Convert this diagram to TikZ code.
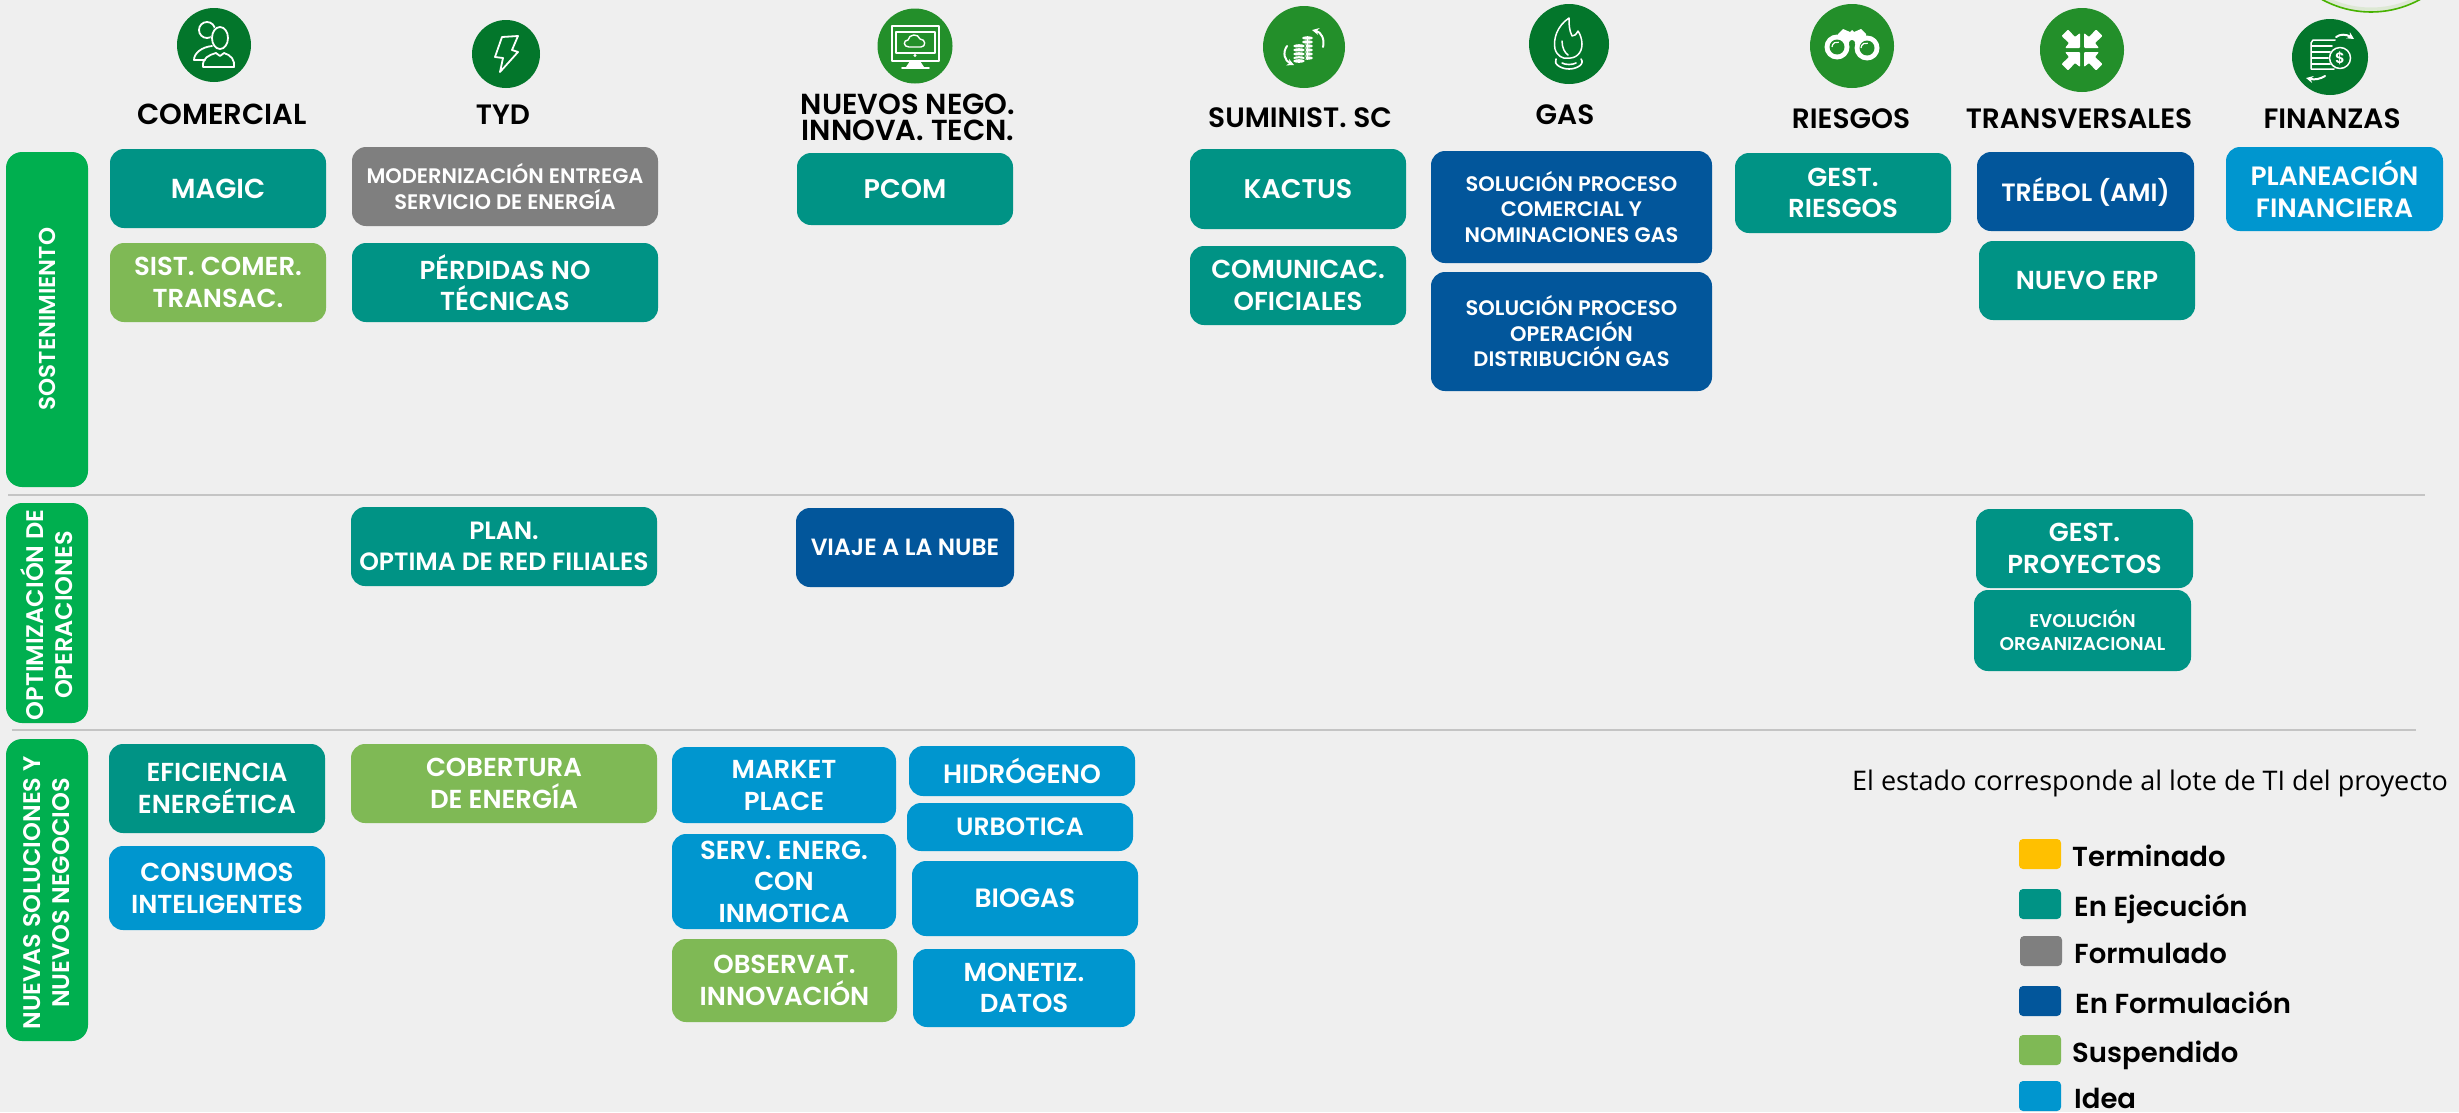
\documentclass[tikz,border=0pt]{standalone}
\usepackage{fontspec}
\usetikzlibrary{arrows.meta}
\setmainfont{Poppins}
\newfontfamily\popsb{Poppins SemiBold}
\newfontfamily\popm{Poppins Medium}
\newfontfamily\latof{Open Sans}
\definecolor{bgc}{HTML}{EFEFEF}
\definecolor{teal}{HTML}{009385}
\definecolor{grayb}{HTML}{7F7F7F}
\definecolor{navy}{HTML}{02569B}
\definecolor{sky}{HTML}{0096CF}
\definecolor{lime}{HTML}{7FB955}
\definecolor{band}{HTML}{00AF4F}
\definecolor{gold}{HTML}{FFC000}
\definecolor{icond}{HTML}{03762B}
\definecolor{iconl}{HTML}{238F2A}
\definecolor{rulec}{HTML}{C4C4C4}
\tikzset{
  x=1pt,y=-1pt,
  boxn/.style={rounded corners=14pt,inner sep=0pt,text=white,align=center},
  bandn/.style={rounded corners=16pt,inner sep=0pt,fill=band},
  bandt/.style={text=white,rotate=90,align=center,inner sep=0pt},
  hdr/.style={anchor=base,inner sep=0pt,text=black,align=center,font=\popsb\fontsize{28}{28}\selectfont},
  icn/.style={circle,inner sep=0pt},
  wl/.style={draw=white,line width=1.8pt,line join=round,line cap=round},
  rulel/.style={draw=rulec,line width=2.2pt},
  swatch/.style={rounded corners=4pt,inner sep=0pt,minimum width=42pt,minimum height=30pt},
  legt/.style={anchor=base west,inner sep=0pt,text=black,font=\popsb\fontsize{27.5}{27.5}\selectfont},
}
\newcommand{\bxt}[9]{\node[boxn,fill=#6,minimum width={#4-#2},minimum height={#5-#3},font=\popsb\fontsize{#7}{#8}\selectfont] (#1) at ({(#2+#4)/2},{(#3+#5)/2}) {#9};}
\begin{document}
\begin{tikzpicture}
\useasboundingbox (0,0) rectangle (2459,1112);
\fill[bgc] (0,0) rectangle (2459,1112);
% arc at the top right
\begin{scope}
\clip (0,0) rectangle (2459,1112);
\draw[color=lime!40!white,line width=5pt,opacity=.5] (2371,-90) circle[radius=100];
\draw[color=green!60!yellow!70!black,line width=1.6pt] (2371,-90) circle[radius=102];
\end{scope}
% rules
\coordinate (r1a) at (8,495); \coordinate (r1b) at (2425,495);
\coordinate (r2a) at (12,730); \coordinate (r2b) at (2416,730);
\draw[rulel] (r1a) -- (r1b);
\draw[rulel] (r2a) -- (r2b);
% bands
\node[bandn,minimum width=82pt,minimum height=335pt] (bS) at (47,319.5) {};
\node[bandt,font=\popsb\fontsize{23}{23}\selectfont] (tS) at (47,319) {SOSTENIMIENTO};
\node[bandn,minimum width=82pt,minimum height=220pt] (bO) at (47,613) {};
\node[bandt,font=\popsb\fontsize{24}{29}\selectfont] (tO) at (47,615) {OPTIMIZACIÓN DE\\OPERACIONES};
\node[bandn,minimum width=82pt,minimum height=302pt] (bN) at (47,890) {};
\node[bandt,font=\popsb\fontsize{24}{29}\selectfont] (tN) at (47,893) {NUEVAS SOLUCIONES Y\\NUEVOS NEGOCIOS};
% headers
\node[hdr,font=\popsb\fontsize{29}{29}\selectfont] (hCom) at (222,124) {COMERCIAL};
\node[hdr] (hTyd) at (503,124) {TYD};
\node[hdr,anchor=center,font=\popsb\fontsize{29}{26.5}\selectfont] (hNue) at (908,117.5) {NUEVOS NEGO.\\INNOVA. TECN.};
\node[hdr] (hSum) at (1300,127) {SUMINIST. SC};
\node[hdr] (hGas) at (1565,124) {GAS};
\node[hdr] (hRie) at (1851,128) {RIESGOS};
\node[hdr] (hTra) at (2079,128) {TRANSVERSALES};
\node[hdr] (hFin) at (2332,128) {FINANZAS};
% boxes
\bxt{b1}{110}{149}{326}{228}{teal}{27.5}{31.5}{\raisebox{-1.5pt}{MAGIC}}
\bxt{b2}{110}{243}{326}{322}{lime}{26}{31.5}{SIST. COMER.\\TRANSAC.}
\bxt{b3}{352}{147}{658}{226}{grayb}{21}{26}{MODERNIZACIÓN ENTREGA\\SERVICIO DE ENERGÍA}
\bxt{b4}{352}{243}{658}{322}{teal}{26}{31.5}{PÉRDIDAS NO\\TÉCNICAS}
\bxt{b5}{797}{153}{1013}{225}{teal}{27}{31.5}{\raisebox{-1.5pt}{PCOM}}
\bxt{b6}{1190}{149}{1406}{229}{teal}{27}{31.5}{\raisebox{-1.5pt}{KACTUS}}
\bxt{b7}{1190}{246}{1406}{325}{teal}{26}{31.5}{COMUNICAC.\\OFICIALES}
\bxt{b8}{1431}{151}{1712}{263}{navy}{21}{25.5}{SOLUCIÓN PROCESO\\COMERCIAL Y\\NOMINACIONES GAS}
\bxt{b9}{1431}{272}{1712}{391}{navy}{21}{25.5}{SOLUCIÓN PROCESO\\OPERACIÓN\\DISTRIBUCIÓN GAS}
\bxt{b10}{1735}{153}{1951}{233}{teal}{26}{31.5}{GEST.\\RIESGOS}
\bxt{b11}{1977}{152}{2194}{231}{navy}{25}{31.5}{TRÉBOL (AMI)}
\bxt{b12}{1979}{241}{2195}{320}{teal}{26}{31.5}{NUEVO ERP}
\bxt{b13}{2226}{147}{2443}{231}{sky}{26.5}{31.5}{PLANEACIÓN\\FINANCIERA}
\bxt{b14}{351}{507}{657}{586}{teal}{25}{31.5}{PLAN.\\OPTIMA DE RED FILIALES}
\bxt{b15}{796}{508}{1014}{587}{navy}{23.5}{31.5}{VIAJE A LA NUBE}
\bxt{b16}{1976}{509}{2193}{588}{teal}{26}{31.5}{GEST.\\PROYECTOS}
\bxt{b17}{1974}{590}{2191}{671}{teal}{18.5}{23}{EVOLUCIÓN\\ORGANIZACIONAL}
\bxt{b18}{109}{744}{325}{833}{teal}{26}{32}{EFICIENCIA\\ENERGÉTICA}
\bxt{b19}{109}{846}{325}{930}{sky}{26}{32}{CONSUMOS\\INTELIGENTES}
\bxt{b20}{351}{744}{657}{823}{lime}{26}{32}{COBERTURA\\DE ENERGÍA}
\bxt{b21}{672}{747}{896}{823}{sky}{26}{32}{MARKET\\PLACE}
\bxt{b22}{672}{834}{896}{929}{sky}{26}{31.5}{SERV. ENERG.\\CON\\INMOTICA}
\bxt{b23}{672}{939}{897}{1022}{lime}{26}{31.5}{OBSERVAT.\\INNOVACIÓN}
\bxt{b24}{909}{746}{1135}{796}{sky}{26.5}{31.5}{HIDRÓGENO}
\bxt{b25}{907}{803}{1133}{851}{sky}{25}{31.5}{URBOTICA}
\bxt{b26}{912}{861}{1138}{936}{sky}{26.5}{31.5}{BIOGAS}
\bxt{b27}{913}{949}{1135}{1027}{sky}{26}{31.5}{MONETIZ.\\DATOS}
% note
\node[anchor=base west,inner sep=0pt,text=black,font=\latof\fontsize{27}{27}\selectfont] (note) at (1852,790) {El estado corresponde al lote de TI del proyecto};
% legend
\node[swatch,fill=gold] (s1) at (2040,854) {};
\node[swatch,fill=teal] (s2) at (2040,904) {};
\node[swatch,fill=grayb] (s3) at (2041,951) {};
\node[swatch,fill=navy] (s4) at (2040,1001) {};
\node[swatch,fill=lime] (s5) at (2040,1050) {};
\node[swatch,fill=sky] (s6) at (2040,1096) {};
\node[legt] (l1) at (2072,866) {Terminado};
\node[legt] (l2) at (2074,916) {En Ejecución};
\node[legt] (l3) at (2074,963) {Formulado};
\node[legt] (l4) at (2075,1013) {En Formulación};
\node[legt] (l5) at (2072,1062) {Suspendido};
\node[legt] (l6) at (2074,1108) {Idea};
% icons
\node[icn,fill=icond,minimum size=74pt] (iCom) at (214,45) {};
\begin{scope}[shift={(iCom.center)}]
\draw[wl] (-7,-15) circle[radius=8];
\fill[icond] (6,-7) ellipse[x radius=9.5,y radius=12.5];
\draw[wl] (6,-7) ellipse[x radius=8,y radius=11];
\draw[wl] (-2,1) .. controls (-12,2) and (-20,8) .. (-20,15) -- (-9,15);
\draw[wl] (-11,22) .. controls (-12,13) and (-5,10) .. (2,8) -- (6,11) -- (10,8) .. controls (17,10) and (21,15) .. (20,22) -- cycle;
\end{scope}
\node[icn,fill=icond,minimum size=68pt] (iTyd) at (506,54) {};
\begin{scope}[shift={(iTyd.center)}]
\draw[wl] (-4,-17) -- (12,-18) -- (6,-4) -- (12,-2) -- (-6,18) -- (-3,4) -- (-11,3) -- cycle;
\end{scope}
\node[icn,fill=iconl,minimum size=75pt] (iNue) at (915,46) {};
\begin{scope}[shift={(iNue.center)}]
\draw[wl] (-23,-20) rectangle (24,15);
\draw[wl,line width=1.3pt] (-19,-14) rectangle (20,7);
\draw[wl,line width=1.4pt] (-6,1) .. controls (-12,1) and (-12,-6) .. (-7,-6) .. controls (-6,-12) and (3,-13) .. (5,-7) .. controls (11,-7) and (11,1) .. (6,1) -- cycle;
\fill[white] (0,9.5) circle[radius=1.6];
\fill[white] (-5,15) -- (5,15) -- (9,21) -- (-9,21) -- cycle;
\draw[wl] (-13,22) -- (14,22);
\end{scope}
\node[icn,fill=iconl,minimum size=82pt] (iSum) at (1304,47) {};
\begin{scope}[shift={(iSum.center)}]
\foreach \yy in {-9,-5,-1,3,7,11}{\fill[white] (3.5,\yy) ellipse[x radius=5.5,y radius=1.8];}
\foreach \yy in {-1,3,7,11,14}{\fill[iconl] (-5,\yy) ellipse[x radius=7,y radius=2.6];\fill[white] (-5,\yy) ellipse[x radius=5.8,y radius=1.8];}
\draw[wl,line width=2pt,-{Stealth[length=7pt,width=7pt]}] (19,0) .. controls (21,-8) and (17,-15) .. (8,-17);
\draw[wl,line width=2pt,-{Stealth[length=7pt,width=7pt]}] (-17,-1) .. controls (-22,6) and (-19,14) .. (-10,18);
\end{scope}
\node[icn,fill=icond,minimum size=80pt] (iGas) at (1569,44) {};
\begin{scope}[shift={(iGas.center)}]
\draw[wl,line width=1.5pt] (0,-26) .. controls (-12,-18) and (-16,-5) .. (-14,5) .. controls (-12,12) and (-6,15) .. (-2,14) .. controls (6,15) and (13,10) .. (13,0) .. controls (13,-5) and (11,-10) .. (9,-13) .. controls (7,-9) and (5,-8) .. (3,-8) .. controls (0,-14) and (0,-20) .. (0,-26);
\draw[wl,line width=1.5pt] (-7,-3) .. controls (-7,4) and (-4,9) .. (-1,11);
\draw[wl,line width=1.6pt] (-13,15) .. controls (-16,20) and (-8,25) .. (0,25) .. controls (8,25) and (16,20) .. (12,15);
\draw[wl,line width=1.6pt] (-7,19) .. controls (-3,21) and (3,21) .. (7,19);
\end{scope}
\node[icn,fill=iconl,minimum size=84pt] (iRie) at (1852,46) {};
\begin{scope}[shift={(iRie.center)}]
\fill[white] (-9,-17) -- (-2,-14) -- (0,-16) -- (2,-14) -- (9,-17) -- (14,-12) -- (14,-6) -- (-14,-6) -- (-14,-12) -- cycle;
\fill[white] (-15,1) circle[radius=12.5];
\fill[white] (15,2) circle[radius=12.5];
\fill[white] (-10,-8) rectangle (10,-2);
\fill[iconl] (-15,1) circle[radius=7.5];
\fill[iconl] (15,2) circle[radius=7.5];
\fill[iconl] (0,-3) circle[radius=3];
\draw[white,line width=1.2pt] (-20,1) arc[start angle=180,end angle=70,x radius=5,y radius=-5];
\draw[white,line width=1.2pt] (9,2) arc[start angle=180,end angle=70,x radius=5,y radius=-5];
\end{scope}
\node[icn,fill=iconl,minimum size=84pt] (iTra) at (2082,50) {};
\begin{scope}[shift={(iTra.center)}]
\foreach \sx/\sy in {1/1,-1/1,1/-1,-1/-1}{
\fill[white,rounded corners=1pt,xscale=\sx,yscale=\sy] (-2,-2) -- (-2,-17) -- (-7,-13) -- (-14,-20.5) -- (-20.5,-14) -- (-13,-7) -- (-17,-2) -- cycle;}
\end{scope}
\node[icn,fill=icond,minimum size=76pt] (iFin) at (2330,57) {};
\begin{scope}[shift={(iFin.center)}]
\draw[wl,line width=1.5pt] (5,-17) -- (-17,-17) -- (-19,-14) -- (-19,12) -- (-17,12) -- (4,12);
\foreach \yy in {-11,-5,1,7}{\draw[wl,line width=1.5pt] (-18,\yy) -- (2,\yy);}
\fill[icond] (10,1) circle[radius=11.5];
\draw[wl,line width=1.5pt] (10,1) circle[radius=10.5];
\node[inner sep=0pt,text=white,font=\popsb\fontsize{15}{15}\selectfont] (iFd) at (10,1) {\$};
\draw[wl,line width=2pt,-{Stealth[length=7pt,width=7pt]}] (6,-20) .. controls (10,-23) and (16,-23) .. (24,-18);
\draw[wl,line width=2pt,-{Stealth[length=7pt,width=7pt]}] (-5,19) .. controls (-10,22) and (-15,23) .. (-24,21);
\end{scope}
\end{tikzpicture}
\end{document}
